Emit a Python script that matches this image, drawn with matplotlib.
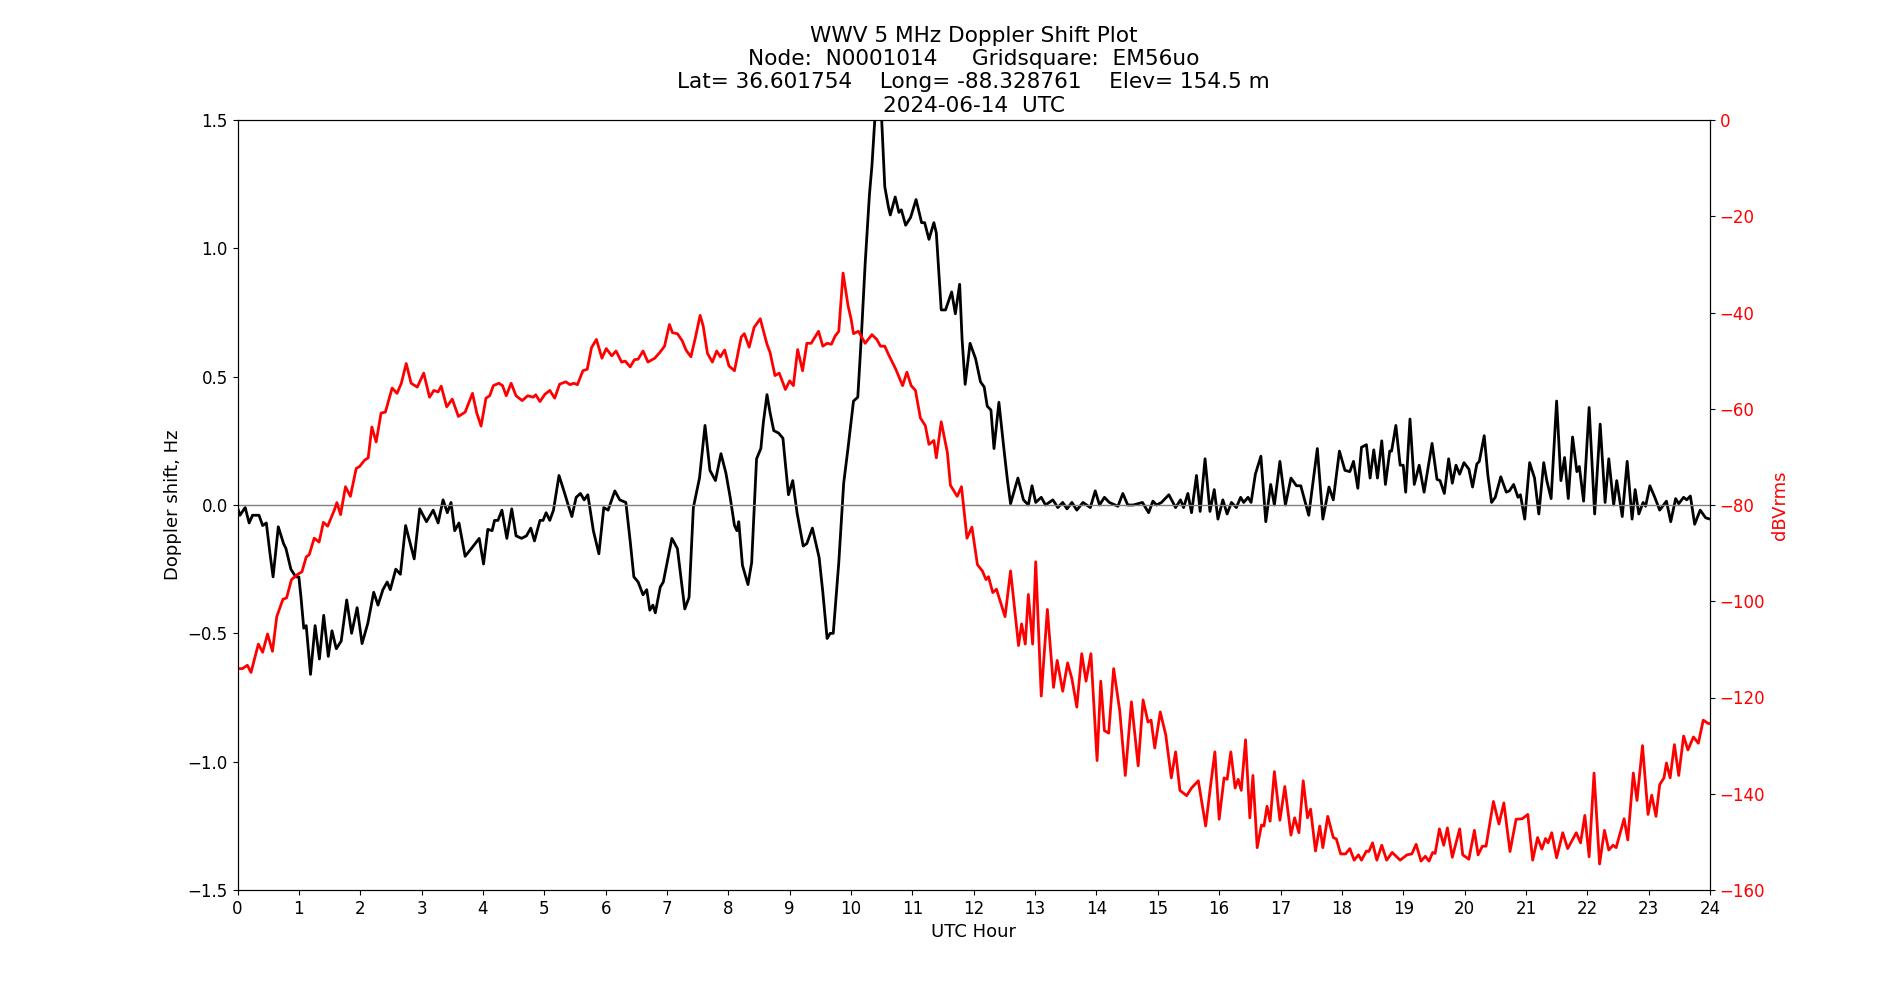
import matplotlib
matplotlib.use("Agg")
import matplotlib.pyplot as plt

# ---- Doppler shift (black, left axis) ----
dop_hour = [0.0, 0.04, 0.125, 0.19, 0.245, 0.35, 0.41, 0.47, 0.53, 0.58, 0.665, 0.75, 0.79, 0.87, 0.95, 1.0,
            1.035, 1.08, 1.12, 1.19, 1.265, 1.335, 1.405, 1.48, 1.54, 1.61, 1.69, 1.78, 1.86, 1.95, 2.03,
            2.125, 2.22, 2.29, 2.37, 2.44, 2.49, 2.58, 2.655, 2.74, 2.88, 2.97, 3.08, 3.19, 3.27, 3.35,
            3.42, 3.48, 3.54, 3.61, 3.71, 3.81, 3.94,
            4.01, 4.08, 4.15, 4.19, 4.245, 4.31, 4.39, 4.47, 4.54, 4.63, 4.71, 4.78, 4.84, 4.93, 4.98,
            5.03, 5.09, 5.15, 5.24, 5.32, 5.39, 5.45, 5.52, 5.59, 5.65, 5.71, 5.80, 5.89, 5.97, 6.04,
            6.15, 6.23, 6.33, 6.40, 6.46, 6.53, 6.61, 6.67, 6.72, 6.77, 6.81, 6.89, 6.94, 7.08, 7.17,
            7.29, 7.36, 7.43, 7.53, 7.62, 7.70, 7.79, 7.88, 7.96,
            8.03, 8.10, 8.14, 8.17, 8.23, 8.32, 8.38, 8.46, 8.53, 8.57, 8.63, 8.68, 8.74, 8.82, 8.89,
            8.93, 8.98, 9.05, 9.12, 9.22, 9.28, 9.37, 9.48, 9.54, 9.61, 9.66, 9.71, 9.80, 9.88, 9.95,
            10.04, 10.11, 10.17, 10.23, 10.30, 10.34, 10.40, 10.44, 10.49, 10.55, 10.61, 10.64, 10.72,
            10.78, 10.82, 10.89, 10.97, 11.06, 11.15, 11.20, 11.27, 11.35, 11.39, 11.47, 11.54, 11.64,
            11.70, 11.77, 11.81, 11.86, 11.94,
            12.03, 12.11, 12.17, 12.22, 12.28, 12.33, 12.41, 12.50, 12.55, 12.60, 12.72, 12.81, 12.89,
            12.95, 13.01, 13.10, 13.17, 13.29, 13.37, 13.45, 13.52, 13.60, 13.68, 13.78, 13.90, 13.98,
            14.05, 14.13, 14.21, 14.35, 14.43, 14.51, 14.60, 14.75, 14.85, 14.92, 14.98, 15.06, 15.18,
            15.29, 15.37, 15.42, 15.49, 15.55, 15.63, 15.69, 15.77, 15.85, 15.92, 15.98,
            16.06, 16.13, 16.20, 16.28, 16.35, 16.40, 16.47, 16.52, 16.59, 16.68, 16.76, 16.84, 16.90,
            16.99, 17.08, 17.17, 17.26, 17.33, 17.46, 17.60, 17.69, 17.79, 17.86, 17.96, 18.05, 18.13,
            18.19, 18.26, 18.32, 18.40, 18.46, 18.52, 18.58, 18.65, 18.71, 18.78, 18.81, 18.88, 18.95,
            19.00, 19.04, 19.11, 19.18, 19.26, 19.34, 19.47, 19.55, 19.60, 19.67, 19.74, 19.80, 19.86,
            19.92, 19.99,
            20.07, 20.13, 20.20, 20.24, 20.32, 20.38, 20.44, 20.50, 20.59, 20.68, 20.73, 20.80, 20.87,
            20.91, 20.98, 21.06, 21.14, 21.21, 21.29, 21.34, 21.41, 21.50, 21.57, 21.63, 21.69, 21.76,
            21.83, 21.87, 21.94, 22.03, 22.12, 22.21, 22.29, 22.35, 22.43, 22.48, 22.57, 22.65, 22.73,
            22.78, 22.84, 22.91, 22.95, 23.02, 23.10, 23.18, 23.29, 23.36, 23.44, 23.49, 23.57, 23.62,
            23.68, 23.75, 23.84, 23.93, 24.0]
dop_shift = [-0.01, -0.04, -0.01, -0.07, -0.04, -0.04, -0.08, -0.07, -0.19, -0.28, -0.085, -0.15, -0.17, -0.25, -0.28, -0.28,
             -0.36, -0.48, -0.47, -0.66, -0.47, -0.60, -0.43, -0.59, -0.49, -0.56, -0.53, -0.37, -0.50, -0.40, -0.54,
             -0.46, -0.34, -0.39, -0.33, -0.30, -0.33, -0.25, -0.27, -0.08, -0.21, -0.015, -0.065, -0.02, -0.07, 0.02,
             -0.03, 0.01, -0.10, -0.07, -0.20, -0.17, -0.13,
             -0.23, -0.095, -0.10, -0.06, -0.06, -0.02, -0.13, -0.015, -0.12, -0.13, -0.12, -0.09, -0.14, -0.06, -0.06,
             -0.03, -0.06, -0.02, 0.115, 0.055, 0.0, -0.045, 0.03, 0.045, 0.02, 0.04, -0.10, -0.19, -0.01, -0.02,
             0.055, 0.02, 0.01, -0.14, -0.28, -0.30, -0.35, -0.33, -0.41, -0.39, -0.42, -0.32, -0.30, -0.13, -0.17,
             -0.405, -0.36, -0.01, 0.105, 0.31, 0.135, 0.095, 0.20, 0.125,
             0.03, -0.08, -0.10, -0.065, -0.235, -0.31, -0.225, 0.18, 0.22, 0.32, 0.43, 0.36, 0.29, 0.28, 0.26,
             0.16, 0.04, 0.095, -0.03, -0.16, -0.15, -0.09, -0.205, -0.34, -0.52, -0.50, -0.50, -0.225, 0.085, 0.22,
             0.405, 0.42, 0.665, 0.94, 1.21, 1.32, 1.55, 1.62, 1.55, 1.24, 1.16, 1.13, 1.20,
             1.14, 1.15, 1.09, 1.12, 1.19, 1.10, 1.10, 1.035, 1.10, 1.06, 0.76, 0.76, 0.83,
             0.745, 0.86, 0.645, 0.47, 0.63,
             0.57, 0.48, 0.46, 0.385, 0.37, 0.22, 0.40, 0.20, 0.095, 0.005, 0.105, 0.02, 0.0,
             0.075, 0.01, 0.03, 0.0, 0.02, -0.01, 0.01, -0.015, 0.01, -0.02, 0.01, -0.01, 0.055,
             0.0, 0.03, 0.01, -0.005, 0.045, 0.0, 0.0, 0.01, -0.03, 0.015, 0.0, 0.01, 0.04,
             -0.01, 0.02, -0.01, 0.045, -0.03, 0.115, -0.025, 0.18, -0.025, 0.06, -0.055,
             0.02, -0.035, 0.01, -0.01, 0.03, 0.01, 0.03, 0.01, 0.12, 0.19, -0.065, 0.08, 0.0,
             0.17, 0.0, 0.105, 0.075, 0.075, -0.04, 0.22, -0.055, 0.07, 0.02, 0.21, 0.135, 0.13,
             0.17, 0.065, 0.225, 0.235, 0.105, 0.215, 0.105, 0.25, 0.08, 0.21, 0.21, 0.31, 0.155,
             0.155, 0.05, 0.335, 0.08, 0.155, 0.05, 0.24, 0.10, 0.095, 0.045, 0.18, 0.085, 0.155,
             0.12, 0.165,
             0.14, 0.07, 0.16, 0.17, 0.27, 0.115, 0.01, 0.03, 0.11, 0.05, 0.055, 0.08, 0.03,
             0.04, -0.055, 0.165, 0.105, -0.035, 0.165, 0.095, 0.025, 0.405, 0.095, 0.185, 0.025, 0.265,
             0.13, 0.15, 0.015, 0.38, -0.035, 0.315, 0.01, 0.18, 0.0, 0.095, -0.045, 0.17, -0.055,
             0.06, -0.035, 0.01, -0.005, 0.075, 0.03, -0.02, 0.015, -0.065, 0.025, 0.005, 0.03, 0.02,
             0.035, -0.075, -0.02, -0.05, -0.055]

# ---- Signal level (red, right axis) ----
pwr_hour = [0.0, 0.08, 0.16, 0.22, 0.34, 0.41, 0.49, 0.57, 0.64, 0.74, 0.80, 0.88, 0.98, 1.05, 1.12, 1.17,
            1.25, 1.33, 1.40, 1.47, 1.58, 1.62, 1.68, 1.76, 1.84, 1.935, 1.99, 2.07, 2.13, 2.19, 2.26,
            2.34, 2.41, 2.52, 2.60, 2.67, 2.75, 2.83, 2.93, 3.035, 3.13, 3.20, 3.27, 3.32, 3.41, 3.50,
            3.60, 3.71, 3.83, 3.90, 3.97,
            4.05, 4.11, 4.17, 4.26, 4.32, 4.38, 4.46, 4.54, 4.64, 4.73, 4.82, 4.86, 4.93, 5.01, 5.09,
            5.17, 5.25, 5.35, 5.42, 5.48, 5.54, 5.63, 5.70, 5.77, 5.85, 5.94, 6.01, 6.10, 6.17, 6.26,
            6.32, 6.40, 6.47, 6.53, 6.61, 6.69, 6.80, 6.89, 6.96, 7.04, 7.09, 7.17, 7.25, 7.31, 7.39,
            7.46, 7.54, 7.59, 7.66, 7.74, 7.81, 7.87, 7.94,
            8.01, 8.10, 8.21, 8.26, 8.34, 8.42, 8.52, 8.63, 8.68, 8.76, 8.83, 8.93, 9.00, 9.06, 9.13,
            9.21, 9.28, 9.35, 9.47, 9.54, 9.61, 9.68, 9.74, 9.80, 9.87, 9.95, 10.0, 10.04, 10.12, 10.23,
            10.34, 10.42, 10.48, 10.55, 10.61, 10.73, 10.84, 10.91, 10.98, 11.05, 11.13, 11.21, 11.27,
            11.35, 11.39, 11.47, 11.57, 11.62, 11.73, 11.80, 11.89, 11.97,
            12.06, 12.14, 12.20, 12.24, 12.31, 12.37, 12.51, 12.60, 12.73, 12.78, 12.84, 12.89, 12.96,
            13.01, 13.10, 13.20, 13.30, 13.36, 13.45, 13.53, 13.60, 13.68, 13.76, 13.83, 13.91, 14.01,
            14.07, 14.13, 14.20, 14.28, 14.38, 14.47, 14.57, 14.68, 14.76, 14.84, 14.89, 14.95, 15.04,
            15.13, 15.22, 15.29, 15.36, 15.47, 15.55, 15.66, 15.78, 15.86, 15.93, 16.0,
            16.08, 16.13, 16.19, 16.26, 16.31, 16.36, 16.43, 16.50, 16.55, 16.62, 16.69, 16.73, 16.78,
            16.83, 16.90, 16.99, 17.07, 17.17, 17.23, 17.30, 17.37, 17.44, 17.49, 17.57, 17.64, 17.69,
            17.77, 17.86, 17.91, 17.98, 18.06, 18.13, 18.20, 18.27, 18.32, 18.40, 18.44, 18.50, 18.57,
            18.65, 18.73, 18.82, 18.95, 19.06, 19.14, 19.21, 19.29, 19.36, 19.42, 19.48, 19.52, 19.59,
            19.66, 19.72, 19.80, 19.92, 19.97,
            20.07, 20.16, 20.22, 20.29, 20.35, 20.47, 20.56, 20.64, 20.74, 20.84, 20.94, 21.03, 21.11,
            21.19, 21.26, 21.32, 21.36, 21.42, 21.50, 21.60, 21.68, 21.82, 21.89, 21.96, 22.03, 22.11,
            22.20, 22.28, 22.35, 22.42, 22.47, 22.60, 22.66, 22.75, 22.81, 22.90, 22.99, 23.05, 23.12,
            23.18, 23.25, 23.29, 23.35, 23.42, 23.49, 23.57, 23.64, 23.73, 23.81, 23.89, 23.97, 24.0]
pwr_dbv = [-114.0, -114.0, -113.3, -114.8, -108.9, -110.6, -106.8, -110.4, -103.2, -99.6, -99.3, -95.5, -94.4, -93.9, -90.8, -90.3,
           -86.9, -87.7, -83.6, -84.4, -81.0, -79.5, -82.0, -76.2, -78.2, -72.4, -72.0, -70.7, -70.2, -63.8, -66.9,
           -60.9, -60.7, -55.7, -56.8, -54.7, -50.6, -54.7, -55.5, -52.6, -57.6, -56.2, -56.5, -55.3, -59.6, -58.0,
           -61.6, -60.7, -56.8, -60.9, -63.6,
           -57.8, -57.3, -55.2, -54.7, -55.2, -57.3, -54.7, -57.3, -58.3, -57.3, -57.6, -57.1, -58.5, -57.0, -56.2,
           -57.8, -54.9, -54.4, -55.0, -54.7, -55.0, -52.1, -51.8, -47.3, -45.6, -49.5, -47.5, -49.0, -48.0, -50.3,
           -50.1, -51.3, -49.8, -49.7, -48.0, -50.3, -49.5, -48.2, -47.0, -42.5, -44.2, -44.4, -45.9, -47.8, -49.2,
           -45.4, -40.6, -42.8, -48.5, -50.3, -48.0, -49.2, -47.8,
           -51.1, -52.1, -45.1, -44.4, -47.2, -43.1, -41.3, -46.6, -48.3, -53.1, -52.6, -56.0, -54.2, -55.2, -47.7,
           -52.1, -46.4, -46.4, -43.9, -47.0, -46.4, -46.6, -44.9, -43.9, -31.8, -38.5, -41.3, -44.4, -43.9, -46.4,
           -44.6, -45.6, -47.0, -47.0, -48.7, -51.8, -55.2, -52.4, -55.2, -56.2, -61.9, -63.5, -67.4,
           -66.6, -70.2, -62.7, -69.1, -75.9, -78.2, -76.2, -86.9, -84.6,
           -92.4, -93.7, -95.5, -94.9, -98.2, -97.5, -103.2, -93.7, -109.2, -104.7, -108.9, -98.6, -108.9,
           -91.8, -119.7, -101.7, -117.9, -112.3, -118.7, -112.8, -116.1, -122.0, -110.9, -116.6, -110.9, -133.1,
           -116.6, -126.9, -127.4, -114.0, -122.8, -136.2, -120.9, -134.2, -120.5, -125.1, -124.7, -130.5, -123.0,
           -127.8, -136.7, -131.3, -139.3, -140.4, -138.8, -137.3, -146.7, -138.3, -131.3, -145.3,
           -136.7, -137.0, -131.3, -138.8, -137.0, -139.3, -128.8, -145.0, -136.2, -151.2, -146.5, -146.7, -142.6,
           -145.7, -135.4, -145.5, -138.5, -148.6, -145.0, -148.1, -137.3, -145.0, -143.2, -151.9, -146.7, -151.2,
           -144.7, -149.1, -149.4, -152.5, -152.5, -151.4, -153.8, -152.7, -153.8, -151.9, -152.0, -150.2, -153.8,
           -150.7, -153.8, -152.2, -153.8, -152.7, -152.5, -150.5, -154.0, -153.0, -154.0, -152.2, -152.4, -147.3,
           -150.7, -147.1, -153.2, -147.3, -152.7,
           -153.6, -147.6, -152.7, -150.9, -150.9, -141.6, -146.3, -141.9, -152.0, -145.3, -145.2, -144.3, -153.8,
           -149.1, -151.5, -149.3, -150.2, -148.1, -153.3, -148.1, -151.4, -148.1, -150.2, -144.5, -153.1, -135.7,
           -154.6, -147.6, -151.7, -150.7, -151.2, -145.2, -149.6, -135.7, -141.4, -130.0, -144.3, -140.3, -144.7,
           -138.1, -136.7, -133.6, -136.7, -129.8, -136.2, -128.0, -130.9, -128.2, -129.5, -124.7, -125.4, -125.4]

x_ticks = list(range(0, 25))
title_lines = ["WWV 5 MHz Doppler Shift Plot",
               "Node:  N0001014     Gridsquare:  EM56uo",
               "Lat= 36.601754    Long= -88.328761    Elev= 154.5 m",
               "2024-06-14  UTC"]

fig, ax = plt.subplots(figsize=(19, 10), dpi=100)
ax.plot(dop_hour, dop_shift, color="black", linewidth=2)
ax.axhline(0, color="gray", linewidth=1)
ax.set_xlim(0, 24)
ax.set_ylim(-1.5, 1.5)
ax.set_xticks(x_ticks)
ax.set_xlabel("UTC Hour", fontsize=13)
ax.set_ylabel("Doppler shift, Hz", fontsize=13)
ax.tick_params(labelsize=12)
ax.set_title("\n".join(title_lines), fontsize=15.6)

ax2 = ax.twinx()
ax2.plot(pwr_hour, pwr_dbv, color="red", linewidth=2)
ax2.set_ylim(-160, 0)
ax2.set_ylabel("dBVrms", color="red", fontsize=13)
ax2.tick_params(axis="y", labelcolor="red", labelsize=12)

fig.savefig("out.png", dpi=100)
